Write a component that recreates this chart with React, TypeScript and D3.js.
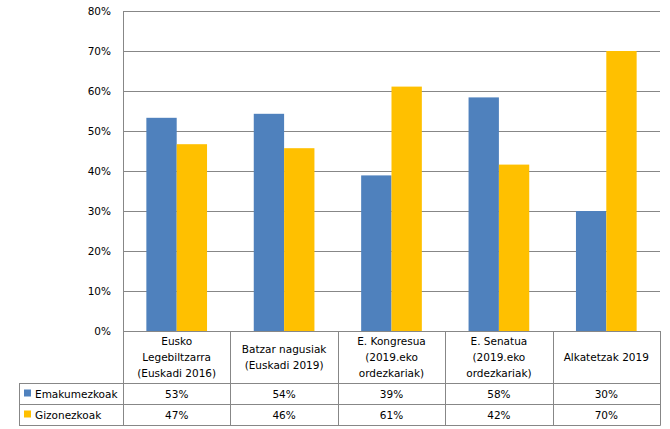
import { useEffect, useRef } from 'react';
import * as d3 from 'd3';

// categories (multi-line labels) and the two series, in percent
const categories = [
  ['Eusko', 'Legebiltzarra', '(Euskadi 2016)'],
  ['Batzar nagusiak', '(Euskadi 2019)'],
  ['E. Kongresua', '(2019.eko', 'ordezkariak)'],
  ['E. Senatua', '(2019.eko', 'ordezkariak)'],
  ['Alkatetzak 2019'],
];
const seriesNames = ['Emakumezkoak', 'Gizonezkoak'];
const emakumezkoak = [53.3, 54.3, 38.9, 58.4, 30.0];
const gizonezkoak = [46.7, 45.7, 61.1, 41.6, 70.0];
const yTicks = [0, 10, 20, 30, 40, 50, 60, 70, 80];
const colors = ['#4F81BD', '#FFC000'];

export default function App() {
  const ref = useRef<SVGSVGElement | null>(null);

  useEffect(() => {
    if (!ref.current) return;
    const svg = d3.select(ref.current);
    svg.selectAll('*').remove();

    const width = 670;
    const height = 429;
    const left = 123;
    const right = 660;
    const top = 11;
    const bottom = 331;
    const tableLeft = 19;
    const row1 = 383;
    const row2 = 404;
    const row3 = 425;
    const font = 'Tahoma, "DejaVu Sans", sans-serif';
    const grid = '#878787';

    svg.attr('width', width).attr('height', height);
    svg.append('rect').attr('width', width).attr('height', height).attr('fill', '#fff');

    const x = d3.scaleBand<number>()
      .domain(categories.map((_, i) => i))
      .range([left, right]);
    const xInner = d3.scaleBand<number>()
      .domain([0, 1])
      .range([0, x.bandwidth()])
      .paddingOuter(0.77)
      .paddingInner(0);
    const y = d3.scaleLinear().domain([0, 80]).range([bottom, top]);

    // gridlines + y labels
    yTicks.forEach((t) => {
      svg.append('line')
        .attr('x1', left).attr('x2', right)
        .attr('y1', y(t) + 0.5).attr('y2', y(t) + 0.5)
        .attr('stroke', grid).attr('stroke-width', 1);
      svg.append('text')
        .attr('x', 111).attr('y', y(t) + 4)
        .attr('text-anchor', 'end')
        .attr('font-family', font).attr('font-size', '10.5px')
        .attr('fill', '#000')
        .text(`${t}%`);
    });

    // bars
    const series = [emakumezkoak, gizonezkoak];
    series.forEach((vals, s) => {
      svg.append('g').selectAll('rect')
        .data(vals)
        .join('rect')
        .attr('x', (_, i) => x(i)! + xInner(s)!)
        .attr('width', xInner.bandwidth())
        .attr('y', (d) => y(d))
        .attr('height', (d) => y(0) - y(d))
        .attr('fill', colors[s]);
    });

    // axis line
    svg.append('line')
      .attr('x1', left + 0.5).attr('x2', left + 0.5)
      .attr('y1', top).attr('y2', row3 + 0.5)
      .attr('stroke', grid);

    // data table lines
    const hline = (yy: number, x1: number) =>
      svg.append('line')
        .attr('x1', x1).attr('x2', right + 0.5)
        .attr('y1', yy + 0.5).attr('y2', yy + 0.5)
        .attr('stroke', grid);
    hline(bottom, left);
    hline(row1, tableLeft);
    hline(row2, tableLeft);
    hline(row3, tableLeft);
    svg.append('line')
      .attr('x1', tableLeft + 0.5).attr('x2', tableLeft + 0.5)
      .attr('y1', row1).attr('y2', row3 + 0.5)
      .attr('stroke', grid);
    categories.forEach((_, i) => {
      const xx = Math.round(x(i)! + x.bandwidth()) + 0.5;
      svg.append('line')
        .attr('x1', xx).attr('x2', xx)
        .attr('y1', bottom).attr('y2', row3 + 0.5)
        .attr('stroke', grid);
    });

    // category labels
    categories.forEach((lines, i) => {
      const cx = x(i)! + x.bandwidth() / 2;
      const mid = (bottom + row1) / 2;
      const lh = 16;
      const t = svg.append('text')
        .attr('text-anchor', 'middle')
        .attr('font-family', font).attr('font-size', '10.5px')
        .attr('fill', '#000');
      lines.forEach((ln, k) => {
        t.append('tspan')
          .attr('x', cx)
          .attr('y', mid + (k - (lines.length - 1) / 2) * lh + 4)
          .text(ln);
      });
    });

    // series rows
    series.forEach((vals, s) => {
      const rowTop = s === 0 ? row1 : row2;
      const cy = rowTop + 11;
      svg.append('rect')
        .attr('x', 24).attr('y', cy - 4.5)
        .attr('width', 7).attr('height', 7)
        .attr('fill', colors[s]);
      svg.append('text')
        .attr('x', 35).attr('y', cy + 4)
        .attr('font-family', font).attr('font-size', '10.5px')
        .attr('fill', '#000')
        .text(seriesNames[s]);
      vals.forEach((v, i) => {
        svg.append('text')
          .attr('x', x(i)! + x.bandwidth() / 2)
          .attr('y', cy + 4)
          .attr('text-anchor', 'middle')
          .attr('font-family', font).attr('font-size', '10.5px')
          .attr('fill', '#000')
          .text(`${Math.round(v)}%`);
      });
    });
  }, []);

  return (
    <div style={{ position: 'absolute', left: 0, top: 0 }}>
      <svg ref={ref}></svg>
    </div>
  );
}
